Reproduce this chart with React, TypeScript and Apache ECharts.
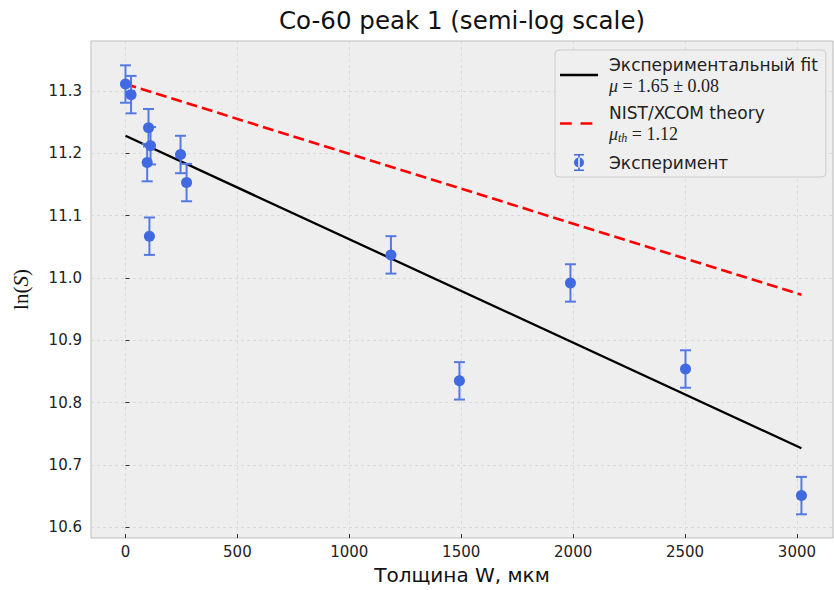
import React, { useEffect, useRef } from "react";
import * as echarts from "echarts";

// ---- data ----
const thickness = [0, 25, 103, 112, 97, 107, 246, 273, 1186, 1492, 1988, 2502, 3020];
const lnS = [11.311, 11.294, 11.241, 11.212, 11.185, 11.067, 11.198, 11.153, 11.037, 10.835, 10.992, 10.854, 10.651];
const lnSErr = [0.03, 0.03, 0.03, 0.03, 0.03, 0.03, 0.03, 0.03, 0.03, 0.03, 0.03, 0.03, 0.03];

const fitX = [0, 3020];
const fitY = [11.228, 10.727];
const theoryX = [0, 3020];
const theoryY = [11.311, 10.973];

const xTicks = [0, 500, 1000, 1500, 2000, 2500, 3000];
const yTicks = [10.6, 10.7, 10.8, 10.9, 11.0, 11.1, 11.2, 11.3];

const title = "Co-60 peak 1 (semi-log scale)";
const xLabel = "Толщина W, мкм";
const seriesNames = ["Экспериментальный fit", "NIST/XCOM theory", "Эксперимент"];

const BLUE = "#4169e1";
const BAR = "#5479e3";
const SANS = "DejaVu Sans";
const SERIF = "Liberation Serif";

export default function App() {
  const ref = useRef<HTMLDivElement>(null);
  useEffect(() => {
    if (!ref.current) return;
    const chart = echarts.init(ref.current, undefined, { renderer: "svg" });

    const points = thickness.map((x, i) => [x, lnS[i]]);
    const bars = thickness.map((x, i) => [x, lnS[i] - lnSErr[i], lnS[i] + lnSErr[i]]);

    const errIcon =
      "path://M0,0h10v1.6h-10z M4.2,0h1.6v17h-1.6z M0,15.4h10v1.6h-10z M0,8.5a5,5 0 1,0 10,0a5,5 0 1,0 -10,0z";
    const solidIcon = "path://M0,0h38v2.5h-38z";
    const dashIcon = "path://M1,0h11.5v2.5h-11.5z M21,0h11.5v2.5h-11.5z M37.9,1h0.1v0.05h-0.1z";

    chart.setOption({
      animation: false,
      backgroundColor: "#ffffff",
      title: {
        text: title,
        top: 3,
        left: 457,
        textAlign: "center",
        textStyle: { fontFamily: SANS, fontSize: 24.5, fontWeight: "normal", color: "#111" },
      },
      grid: {
        left: 91,
        top: 41,
        width: 742,
        height: 498,
        show: true,
        backgroundColor: "#eeeeee",
        borderColor: "#bcbcbc",
        borderWidth: 1,
        containLabel: false,
      },
      legend: {
        orient: "vertical",
        left: 555,
        top: 50,
        padding: [6, 8, 6, 5],
        itemGap: 10,
        itemWidth: 38,
        itemHeight: 17,
        backgroundColor: "rgba(238,238,238,0.9)",
        borderColor: "#cccccc",
        borderWidth: 1,
        borderRadius: 4,
        data: [
          { name: seriesNames[0], icon: solidIcon, itemStyle: { color: "#000000" } },
          { name: seriesNames[1], icon: dashIcon, itemStyle: { color: "#ff0000" } },
          { name: seriesNames[2], icon: errIcon, itemStyle: { color: BLUE } },
        ],
        formatter: (name: string) => {
          if (name === seriesNames[0]) return "{t|" + name + "}\n{mi|μ}{mr| = 1.65 ± 0.08}";
          if (name === seriesNames[1]) return "{t|" + name + "}\n{mi|μ}{sub|th}{mr| = 1.12}";
          return "{t|" + name + "}";
        },
        textStyle: {
          rich: {
            t: { fontFamily: SANS, fontSize: 17, color: "#222", lineHeight: 21, padding: [0, 0, 0, 6] },
            mi: { fontFamily: SERIF, fontStyle: "italic", fontSize: 18, color: "#222", lineHeight: 21, padding: [0, 0, 0, 6] },
            mr: { fontFamily: SERIF, fontSize: 18, color: "#222", lineHeight: 21 },
            sub: { fontFamily: SERIF, fontStyle: "italic", fontSize: 12, color: "#222", lineHeight: 21, padding: [8, 0, 0, 0] },
          },
        },
      },
      xAxis: {
        type: "value",
        min: -154,
        max: 3161,
        name: xLabel,
        nameLocation: "middle",
        nameGap: 27,
        nameTextStyle: { fontFamily: SANS, fontSize: 20, color: "#111" },
        axisLine: { show: false },
        axisTick: { show: true, inside: true, length: 4, customValues: xTicks, lineStyle: { color: "#333", width: 1 } },
        axisLabel: {
          customValues: xTicks,
          fontFamily: SANS,
          fontSize: 15,
          color: "#222",
          margin: 6,
          formatter: (v: number) => String(v),
        },
        splitLine: { show: true, lineStyle: { color: "#d4d4d4", width: 0.8, type: [3, 3] } },
      },
      yAxis: {
        type: "value",
        min: 10.583,
        max: 11.38,
        name: "{r|ln(}{i|S}{r|)}",
        nameLocation: "middle",
        nameGap: 60,
        nameRotate: 90,
        nameTextStyle: {
          rich: {
            r: { fontFamily: SERIF, fontSize: 21, color: "#111" },
            i: { fontFamily: SERIF, fontStyle: "italic", fontSize: 21, color: "#111" },
          },
        },
        axisLine: { show: false },
        axisTick: { show: true, inside: true, length: 4, customValues: yTicks, lineStyle: { color: "#333", width: 1 } },
        axisLabel: {
          customValues: yTicks,
          fontFamily: SANS,
          fontSize: 15,
          color: "#222",
          margin: 9,
          formatter: (v: number) => v.toFixed(1),
        },
        splitLine: { show: true, lineStyle: { color: "#d4d4d4", width: 0.8, type: [3, 3] } },
      },
      series: [
        {
          name: seriesNames[0],
          type: "line",
          data: fitX.map((x, i) => [x, fitY[i]]),
          symbol: "none",
          showSymbol: false,
          lineStyle: { color: "#000000", width: 2.3 },
          itemStyle: { color: "#000000" },
          z: 3,
        },
        {
          name: seriesNames[1],
          type: "line",
          data: theoryX.map((x, i) => [x, theoryY[i]]),
          symbol: "none",
          showSymbol: false,
          lineStyle: { color: "#ff0000", width: 2.6, type: [11, 5] },
          itemStyle: { color: "#ff0000" },
          z: 3,
        },
        {
          name: seriesNames[2],
          type: "custom",
          data: bars,
          encode: { x: 0, y: [1, 2] },
          renderItem: (params: any, api: any) => {
            const x = api.value(0);
            const top = api.coord([x, api.value(2)]);
            const bot = api.coord([x, api.value(1)]);
            const hw = 5.5;
            const st = { stroke: BAR, lineWidth: 2 };
            return {
              type: "group",
              children: [
                { type: "line", shape: { x1: top[0], y1: top[1], x2: bot[0], y2: bot[1] }, style: st },
                { type: "line", shape: { x1: top[0] - hw, y1: top[1], x2: top[0] + hw, y2: top[1] }, style: st },
                { type: "line", shape: { x1: bot[0] - hw, y1: bot[1], x2: bot[0] + hw, y2: bot[1] }, style: st },
              ],
            };
          },
          z: 4,
        },
        {
          name: seriesNames[2],
          type: "scatter",
          data: points,
          symbol: "circle",
          symbolSize: 11,
          itemStyle: { color: BLUE, opacity: 1 },
          z: 5,
        },
      ],
    });
    return () => chart.dispose();
  }, []);
  return (
    <div
      ref={ref}
      style={{ position: "fixed", left: 0, top: 0, width: 834, height: 590 }}
    />
  );
}
